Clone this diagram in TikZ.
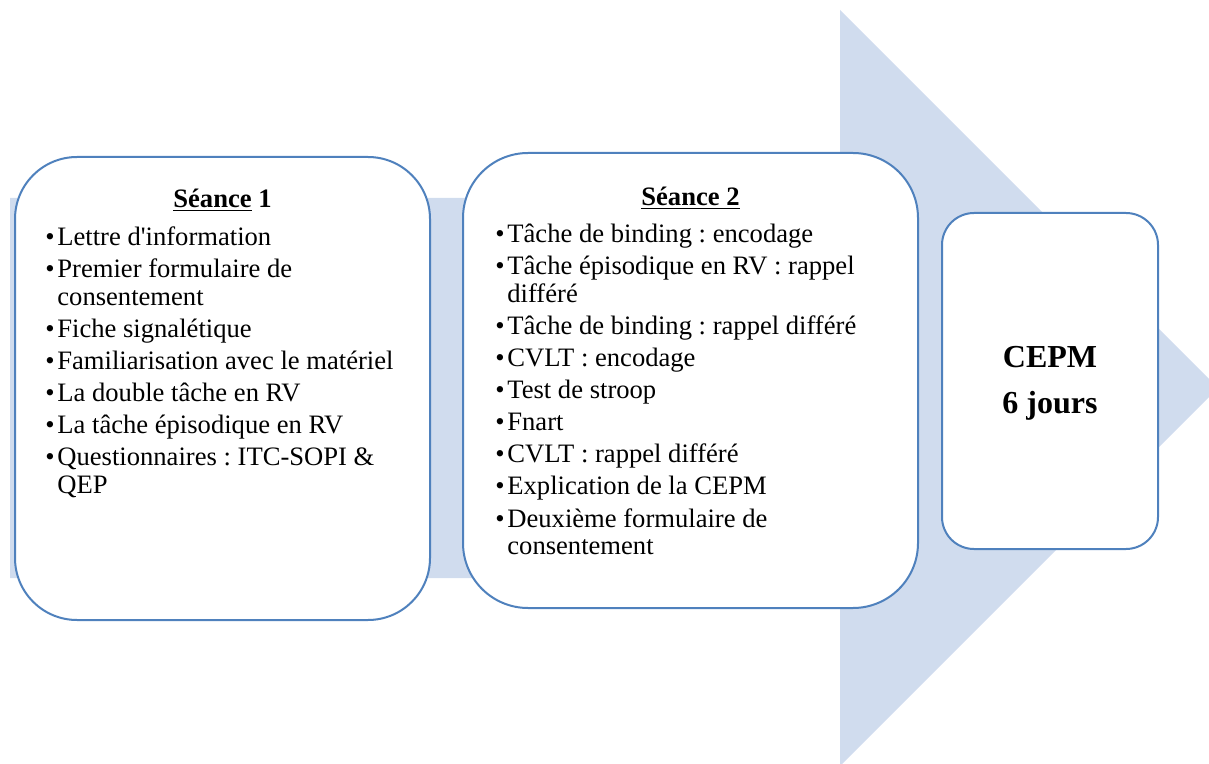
\documentclass[tikz,border=0pt]{standalone}
\usepackage{fontspec}
\setmainfont{Liberation Serif}
\frenchspacing
\definecolor{fleche}{RGB}{208,220,238}
\definecolor{bord}{RGB}{79,129,189}
\newcommand{\puce}{\makebox[6pt][l]{\textbullet}}
\newcommand{\suite}{\hspace*{6pt}}
\newcommand{\souligne}[1]{\sbox0{#1}\rlap{\rule[-1.6pt]{\wd0}{0.8pt}}\usebox0}

\begin{document}
\begin{tikzpicture}[x=0.5pt, y=-0.5pt,
  etape/.style={draw=bord, line width=1pt, fill=white, inner sep=0pt},
  titre/.style={anchor=base, inner sep=0pt, font=\fontsize{13.3}{14}\bfseries},
  liste/.style={anchor=base west, inner sep=0pt, font=\fontsize{13.3}{14}\selectfont}]

\useasboundingbox (0,0) rectangle (1209,764);

% la grande fleche derriere
\fill[fleche] (10,198) -- (840,198) -- (840,10) -- (1218,388) -- (840,766) -- (840,578) -- (10,578) -- cycle;

% les trois etapes
\node[etape, minimum width=207.5pt, minimum height=231.5pt, rounded corners=31pt] (s1) at (222.5,388.5) {};
\node[etape, minimum width=227.5pt, minimum height=227.5pt, rounded corners=32.5pt] (s2) at (690.5,380.5) {};
\node[etape, minimum width=108pt, minimum height=168pt, rounded corners=16pt] (s3) at (1050,381) {};

% seance 1
\node[titre] (t1) at (222.5,208) {\souligne{Séance} 1};
\node[liste] (l1) at (45,246) {\begin{tabular}[t]{@{}l@{}}
\puce Lettre d\textquotesingle information\\[2pt]
\puce Premier formulaire de\\
\suite consentement\\[2pt]
\puce Fiche signalétique\\[2pt]
\puce Familiarisation avec le matériel\\[2pt]
\puce La double tâche en RV\\[2pt]
\puce La tâche épisodique en RV\\[2pt]
\puce Questionnaires : ITC-SOPI \&\\
\suite QEP
\end{tabular}};

% seance 2
\node[titre] (t2) at (690.5,206) {\souligne{Séance 2}};
\node[liste] (l2) at (495,243) {\begin{tabular}[t]{@{}l@{}}
\puce Tâche de binding : encodage\\[2pt]
\puce Tâche épisodique en RV : rappel\\
\suite différé\\[2pt]
\puce Tâche de binding : rappel différé\\[2pt]
\puce CVLT : encodage\\[2pt]
\puce Test de stroop\\[2pt]
\puce Fnart\\[2pt]
\puce CVLT : rappel différé\\[2pt]
\puce Explication de la CEPM\\[2pt]
\puce Deuxième formulaire de\\
\suite consentement
\end{tabular}};

% CEPM
\node[anchor=base, inner sep=0pt, font=\fontsize{16}{23}\bfseries] (c3) at (1050,367) {\begin{tabular}[t]{@{}c@{}}
CEPM\\
6 jours
\end{tabular}};

\end{tikzpicture}
\end{document}
